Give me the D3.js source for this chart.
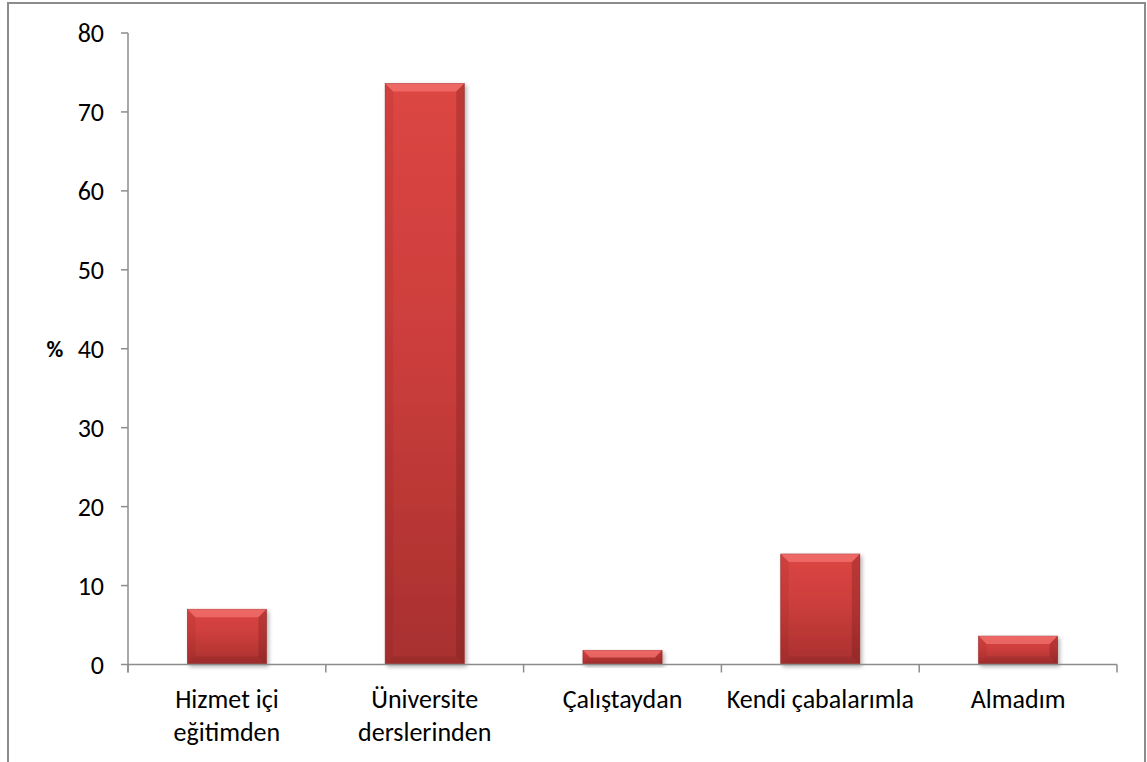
<!DOCTYPE html>
<html>
<head>
<meta charset="utf-8">
<script src="https://cdn.jsdelivr.net/npm/d3@7"></script>
<style>
  html, body { margin: 0; padding: 0; background: #fff; }
  svg { display: block; }
  text { font-family: Carlito, Lato, "Open Sans", sans-serif; fill: #000; }
</style>
</head>
<body>
<svg id="chart" width="1147" height="762"></svg>
<script>
// Where respondents got their training (%)
const categories = [
  ["Hizmet içi", "eğitimden"],
  ["Üniversite", "derslerinden"],
  ["Çalıştaydan"],
  ["Kendi çabalarımla"],
  ["Almadım"]
];
const values = [7.0, 73.6, 1.8, 14.0, 3.6];
const yTicks = [0, 10, 20, 30, 40, 50, 60, 70, 80];
const yLabel = "%";

const svg = d3.select("#chart");
const plot = { left: 128, right: 1117, top: 33, bottom: 664.5 };

// outer chart frame (open at the bottom edge of the window)
svg.append("rect")
  .attr("x", 8).attr("y", 3)
  .attr("width", 1137).attr("height", 820)
  .attr("fill", "none").attr("stroke", "#8c8c8c").attr("stroke-width", 2);

const x = d3.scaleBand()
  .domain(d3.range(categories.length))
  .range([plot.left, plot.right])
  .paddingInner(0.6).paddingOuter(0.3);

const xBand = d3.scaleBand()
  .domain(d3.range(categories.length))
  .range([plot.left, plot.right]);

const y = d3.scaleLinear().domain([0, 80]).range([plot.bottom, plot.top]);

const defs = svg.append("defs");
const grad = defs.append("linearGradient")
  .attr("id", "barFill").attr("x1", 0).attr("y1", 0).attr("x2", 0).attr("y2", 1);
grad.append("stop").attr("offset", "0%").attr("stop-color", "#dc4643");
grad.append("stop").attr("offset", "45%").attr("stop-color", "#cc3e3c");
grad.append("stop").attr("offset", "100%").attr("stop-color", "#a8302f");

const shadow = defs.append("filter").attr("id", "barShadow")
  .attr("x", "-20%").attr("y", "-20%").attr("width", "140%").attr("height", "140%");
shadow.append("feGaussianBlur").attr("in", "SourceAlpha").attr("stdDeviation", 2.2).attr("result", "b");
shadow.append("feOffset").attr("in", "b").attr("dx", 2).attr("dy", 2).attr("result", "o");
shadow.append("feComponentTransfer").attr("in", "o").attr("result", "s")
  .append("feFuncA").attr("type", "linear").attr("slope", 0.3);
const merge = shadow.append("feMerge");
merge.append("feMergeNode").attr("in", "s");
merge.append("feMergeNode").attr("in", "SourceGraphic");

// axes
const axisColor = "#8c8c8c";
const yAxis = svg.append("g");
yAxis.append("line")
  .attr("x1", plot.left).attr("x2", plot.left)
  .attr("y1", plot.top).attr("y2", plot.bottom + 8)
  .attr("stroke", axisColor).attr("stroke-width", 1.5);
yAxis.selectAll(".yt").data(yTicks).join("line")
  .attr("x1", plot.left - 7).attr("x2", plot.left)
  .attr("y1", d => y(d)).attr("y2", d => y(d))
  .attr("stroke", axisColor).attr("stroke-width", 1.5);
yAxis.selectAll(".yl").data(yTicks).join("text")
  .attr("x", plot.left - 24).attr("y", d => y(d))
  .attr("dy", "0.36em").attr("text-anchor", "end")
  .attr("font-size", 26)
  .text(d => d);

svg.append("text")
  .attr("x", 55).attr("y", y(40)).attr("dy", "0.36em")
  .attr("text-anchor", "middle").attr("font-size", 23).attr("font-weight", "bold")
  .text(yLabel);

// bars
const bars = svg.append("g").selectAll("g").data(values).join("g");
bars.append("rect")
  .attr("x", (d, i) => x(i)).attr("width", x.bandwidth())
  .attr("y", d => y(d)).attr("height", d => y(0) - y(d))
  .attr("fill", "url(#barFill)")
  .attr("stroke", "#9a2c2b").attr("stroke-width", 0.6)
  .attr("filter", "url(#barShadow)");

// bevelled edges on each bar
const bev = 8;
bars.each(function (d, i) {
  const g = d3.select(this);
  const x0 = x(i), x1 = x(i) + x.bandwidth();
  const y0 = y(d), y1 = y(0);
  const b = Math.min(bev, (y1 - y0) / 2);
  const faces = [
    { pts: [[x0, y0], [x1, y0], [x1 - b, y0 + b], [x0 + b, y0 + b]], fill: "#ff8a86", op: 0.5 },
    { pts: [[x0, y0], [x0 + b, y0 + b], [x0 + b, y1 - b], [x0, y1]], fill: "#7a1c1c", op: 0.12 },
    { pts: [[x1, y0], [x1, y1], [x1 - b, y1 - b], [x1 - b, y0 + b]], fill: "#5a1414", op: 0.25 },
    { pts: [[x0, y1], [x0 + b, y1 - b], [x1 - b, y1 - b], [x1, y1]], fill: "#5a1414", op: 0.15 }
  ];
  g.selectAll("polygon").data(faces).join("polygon")
    .attr("points", f => f.pts.map(p => p.join(",")).join(" "))
    .attr("fill", f => f.fill).attr("fill-opacity", f => f.op);
});

// x axis drawn over the bar bottoms
const xAxis = svg.append("g");
xAxis.append("line")
  .attr("x1", plot.left).attr("x2", plot.right)
  .attr("y1", y(0)).attr("y2", y(0))
  .attr("stroke", axisColor).attr("stroke-width", 1.5);
const bounds = d3.range(categories.length).map(i => xBand(i)).concat([plot.right]);
xAxis.selectAll(".xt").data(bounds).join("line")
  .attr("x1", d => d).attr("x2", d => d)
  .attr("y1", y(0)).attr("y2", y(0) + 8)
  .attr("stroke", axisColor).attr("stroke-width", 1.5);

const labels = svg.append("g").selectAll("text").data(categories).join("text")
  .attr("text-anchor", "middle").attr("font-size", 26)
  .attr("x", (d, i) => xBand(i) + xBand.bandwidth() / 2)
  .attr("y", 708);
labels.selectAll("tspan").data(d => d).join("tspan")
  .attr("x", function () { return d3.select(this.parentNode).attr("x"); })
  .attr("dy", (d, j) => j === 0 ? 0 : 33)
  .text(d => d);
</script>
</body>
</html>
